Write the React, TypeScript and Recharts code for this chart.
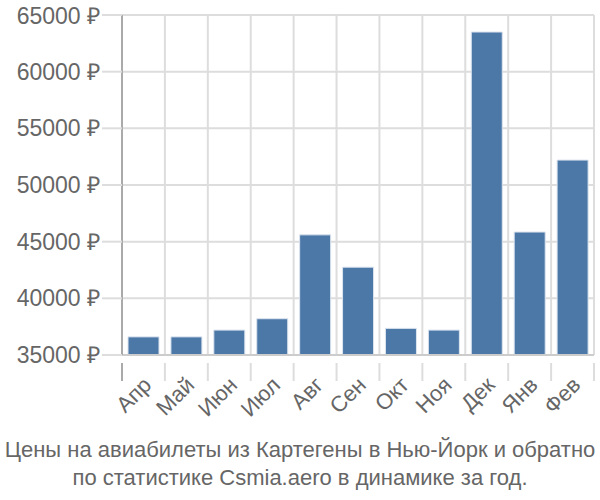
import React from 'react';
import { BarChart, Bar, XAxis, YAxis, CartesianGrid } from 'recharts';

const months = ['Апр', 'Май', 'Июн', 'Июл', 'Авг', 'Сен', 'Окт', 'Ноя', 'Дек', 'Янв', 'Фев'];
const prices = [36600, 36600, 37200, 38200, 45600, 42750, 37350, 37200, 63500, 45850, 52200];
const yTicks = [35000, 40000, 45000, 50000, 55000, 60000, 65000];

const W = 600;
const H = 430;
const M = { top: 15, right: 6, left: 0, bottom: 0 };
const Y_WIDTH = 122;
const PLOT_W = W - M.left - M.right - Y_WIDTH;
const BAND = PLOT_W / months.length;
const FONT = 'Liberation Sans, Arial, sans-serif';

const data = months.map((m, i) => ({ month: m, price: prices[i] }));

// rotated month label + boundary tick marks below the axis
const MonthTick = (props: any) => {
  const { x, y, payload, index } = props;
  const left = x - BAND / 2;
  const last = index === months.length - 1;
  return (
    <g>
      <line x1={left} y1={y} x2={left} y2={y + 18} stroke={index === 0 ? '#aaa' : '#ddd'} strokeWidth={2} />
      {last && <line x1={x + BAND / 2} y1={y} x2={x + BAND / 2} y2={y + 18} stroke="#ddd" strokeWidth={2} />}
      <text
        x={x + 4}
        y={y + 18}
        textAnchor="end"
        dominantBaseline="central"
        transform={`rotate(-45, ${x + 4}, ${y + 18})`}
        fill="#666"
        fontSize={22}
        fontFamily={FONT}
      >
        {payload.value}
      </text>
    </g>
  );
};

export default function App() {
  return (
    <div style={{ position: 'absolute', left: 0, top: 0, width: W, height: 500, background: '#fff' }}>
      <BarChart width={W} height={H} data={data} margin={M} barCategoryGap="14%">
        <CartesianGrid
          stroke="#ddd"
          strokeWidth={2}
          verticalCoordinatesGenerator={({ offset }: any) =>
            months.map((_, i) => offset.left + i * (offset.width / months.length)).concat(offset.left + offset.width)
          }
        />
        <XAxis
          dataKey="month"
          interval={0}
          tickLine={false}
          axisLine={{ stroke: '#ccc', strokeWidth: 2 }}
          tick={<MonthTick />}
          height={H - M.top - 340}
        />
        <YAxis
          domain={[35000, 65000]}
          ticks={yTicks}
          width={Y_WIDTH}
          tickSize={20}
          tickMargin={2}
          tickLine={{ stroke: '#ddd', strokeWidth: 2 }}
          axisLine={{ stroke: '#aaa', strokeWidth: 2 }}
          tickFormatter={(v: number) => `${v} ₽`}
          tick={{ fill: '#666', fontSize: 23, fontFamily: FONT }}
          allowDataOverflow
        />
        <Bar dataKey="price" fill="#4c78a8" stroke="#dbe4ef" strokeWidth={1} isAnimationActive={false} />
      </BarChart>
      <div
        style={{
          textAlign: 'center',
          fontFamily: FONT,
          fontSize: 22,
          lineHeight: '28px',
          color: '#666',
          marginTop: 6,
          whiteSpace: 'nowrap',
        }}
      >
        Цены на авиабилеты из Картегены в Нью-Йорк и обратно
        <br />
        по статистике Csmia.aero в динамике за год.
      </div>
    </div>
  );
}
